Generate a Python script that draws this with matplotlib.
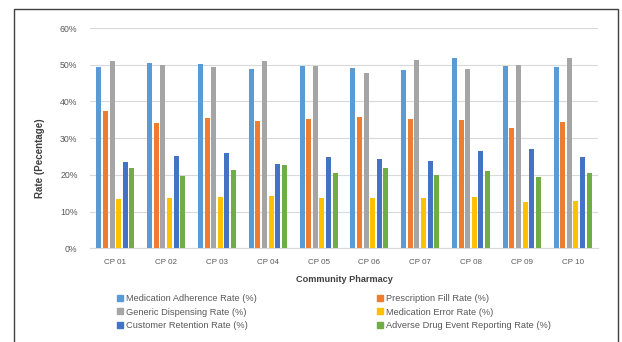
import matplotlib
matplotlib.use("Agg")
import matplotlib.pyplot as plt
import numpy as np
from matplotlib.patches import Rectangle, Patch

plt.rcParams['font.family'] = ['Liberation Sans', 'DejaVu Sans']

pharmacies = ["CP 01", "CP 02", "CP 03", "CP 04", "CP 05",
              "CP 06", "CP 07", "CP 08", "CP 09", "CP 10"]

adherence = [49.5, 50.5, 50.3, 48.8, 49.7, 49.2, 48.6, 51.9, 49.6, 49.4]
fill_rate = [37.3, 34.2, 35.6, 34.7, 35.3, 35.7, 35.3, 34.9, 32.8, 34.4]
generic = [51.0, 49.8, 49.3, 51.0, 49.6, 47.7, 51.2, 48.8, 49.9, 51.9]
error_rate = [13.3, 13.7, 14.0, 14.2, 13.6, 13.6, 13.6, 14.1, 12.6, 12.8]
retention = [23.5, 25.2, 26.0, 22.9, 25.0, 24.3, 23.9, 26.6, 27.1, 24.8]
adverse = [22.0, 19.8, 21.3, 22.6, 20.5, 22.0, 19.9, 21.1, 19.5, 20.6]

series = [
    ("Medication Adherence Rate (%)", adherence, "#5B9BD5"),
    ("Prescription Fill Rate (%)", fill_rate, "#ED7D31"),
    ("Generic Dispensing Rate (%)", generic, "#A5A5A5"),
    ("Medication Error Rate (%)", error_rate, "#FFC000"),
    ("Customer Retention Rate (%)", retention, "#4472C4"),
    ("Adverse Drug Event Reporting Rate (%)", adverse, "#70AD47"),
]

fig = plt.figure(figsize=(6.22, 3.42), dpi=100)
ax = fig.add_axes([90/622, 1-248.3/342, 508/622, 220.3/342])

x = np.arange(len(pharmacies))
step = 0.13
width = 0.098
for i, (name, vals, col) in enumerate(series):
    ax.bar(x + (i - 2.5) * step, np.array(vals) / 100, width, color=col,
           label=name, zorder=3)

ax.set_xlim(-0.5, len(pharmacies) - 0.5)
ax.set_ylim(0, 0.6)
ax.set_yticks(np.arange(0, 0.61, 0.1))
ax.set_yticklabels([f"{int(round(v*100))}%" for v in np.arange(0, 0.61, 0.1)])
ax.set_xticks(x)
ax.set_xticklabels(pharmacies)
ax.tick_params(axis='both', length=0, colors="#595959")
ax.tick_params(axis='y', pad=9, labelsize=6.3)
ax.tick_params(axis='x', pad=8, labelsize=5.8)
ax.grid(axis='y', color="#D9D9D9", linewidth=0.8, zorder=0)
for s in ["top", "right", "left"]:
    ax.spines[s].set_visible(False)
ax.spines["bottom"].set_color("#D9D9D9")
ax.spines["bottom"].set_linewidth(0.8)

ax.set_xlabel("Community Pharmacy", fontsize=6.6, fontweight="bold",
              color="#404040", labelpad=6)
ax.set_ylabel("Rate (Pecentage)", fontsize=7, fontweight="bold",
              color="#404040")
ax.yaxis.set_label_coords(-0.089, 0.41)

# legend laid out row by row in two columns
handles = [Patch(color=c) for _, _, c in series]
labels = [n for n, _, _ in series]
for col, start in ((0, 117/622), (1, 377/622)):
    idx = [col, col + 2, col + 4]
    leg = fig.legend([handles[i] for i in idx], [labels[i] for i in idx],
                     loc="upper left", bbox_to_anchor=(start, 1-294/342),
                     frameon=False, fontsize=6.7, handlelength=0.6,
                     handleheight=0.6, handletextpad=0.35, labelspacing=0.5,
                     borderpad=0, borderaxespad=0)
    for t in leg.get_texts():
        t.set_color("#595959")

# outer chart frame
fig.patches.append(Rectangle((14/622, -0.01), 604/622, 1-9/342 + 0.01,
                             transform=fig.transFigure, fill=False,
                             edgecolor="#404040", linewidth=1.0))

fig.savefig("out.png", dpi=100)
